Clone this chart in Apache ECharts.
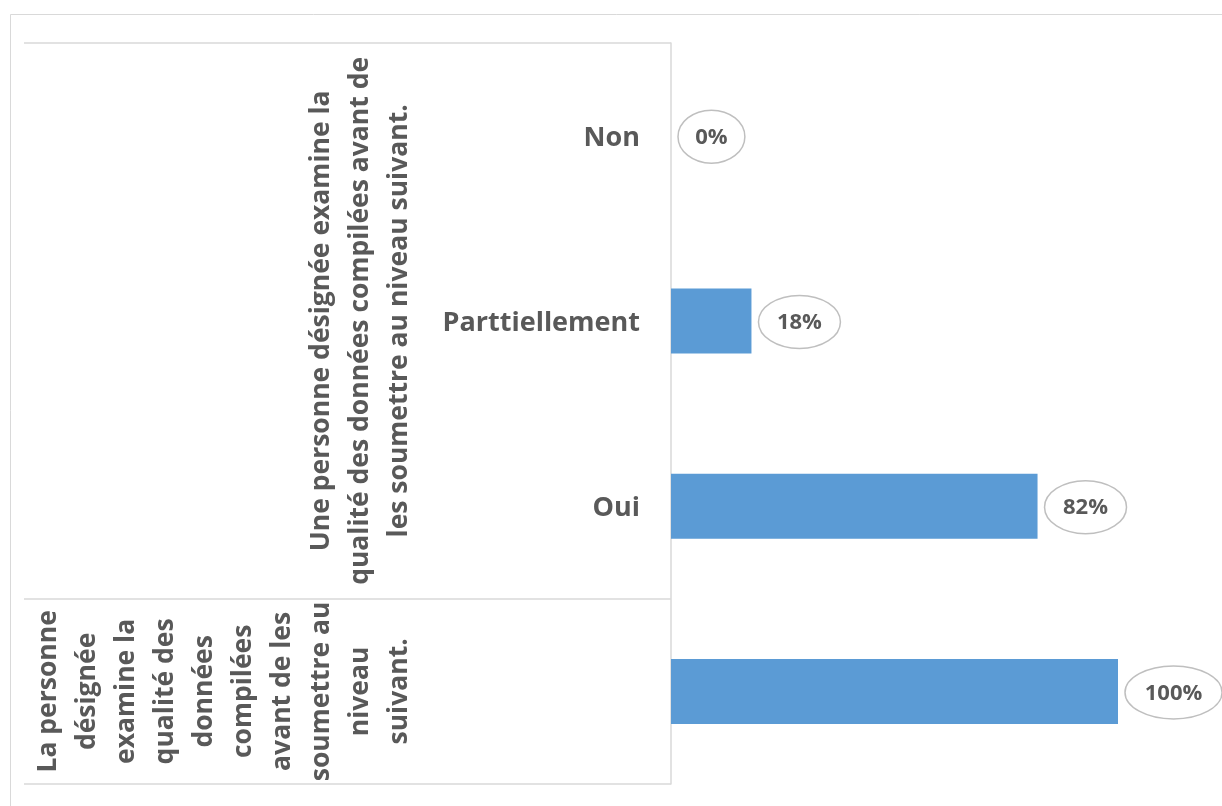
<!DOCTYPE html>
<html>
<head>
<meta charset="utf-8">
<script src="https://cdn.jsdelivr.net/npm/echarts@6/dist/echarts.min.js"></script>
<style>
  html, body { margin: 0; padding: 0; background: #fff; overflow: hidden; }
  #chart { width: 1222px; height: 806px; }
</style>
</head>
<body>
<div id="chart"></div>
<script>
// Answer categories (first level of the axis), top to bottom
const categories = ['Non', 'Parttiellement', 'Oui', ''];
// Share of respondents for each row
const values = [0, 0.18, 0.82, 1.00];
// Second-level group labels: [category index at the group's centre, wrapped lines]
const groupLabels = [
  [1, ['Une personne désignée examine la', 'qualité des données compilées avant de', 'les soumettre au niveau suivant.']],
  [3, ['La personne', 'désignée', 'examine la', 'qualité des', 'données', 'compilées', 'avant de les', 'soumettre au', 'niveau', 'suivant.']]
];
// Category indices where a group starts (boundary lines of the label table)
const groupStarts = [0, 3];

const FONT = '"Open Sans", "DejaVu Sans", sans-serif';
const TEXT = '#595959';
const LINE = '#d9d9d9';

const groupText = {};
groupLabels.forEach(g => { groupText[g[0]] = g[1].join('\n'); });

// canvas for measuring callout text
const measureCtx = document.createElement('canvas').getContext('2d');
measureCtx.font = 'bold 22px ' + FONT;

const chart = echarts.init(document.getElementById('chart'));

const option = {
  backgroundColor: '#fff',
  animation: false,
  graphic: [{
    type: 'rect',
    shape: { x: 10.5, y: 14.5, width: 1400, height: 1000 },
    style: { fill: 'none', stroke: LINE, lineWidth: 1 },
    silent: true, z: -10
  }],
  grid: { left: 671, right: 104, top: 43, bottom: 22, outerBoundsMode: 'none', containLabel: false },
  xAxis: { type: 'value', min: 0, max: 1, show: false },
  yAxis: [
    {
      type: 'category',
      data: categories,
      inverse: true,
      axisLine: { show: true, lineStyle: { color: LINE, width: 1.5 } },
      axisTick: { show: false },
      splitLine: { show: false },
      axisLabel: {
        interval: 0,
        margin: 31,
        verticalAlign: 'top',
        lineHeight: 5,
        color: TEXT,
        fontFamily: FONT,
        fontWeight: 'bold',
        fontSize: 27
      }
    },
    {
      type: 'category',
      data: categories,
      inverse: true,
      position: 'left',
      axisLine: { show: false },
      axisTick: {
        show: true,
        length: 647,
        interval: function (idx) { return groupStarts.indexOf(idx) >= 0; },
        lineStyle: { color: LINE, width: 1.5 }
      },
      splitLine: { show: false },
      axisLabel: {
        interval: 0,
        margin: 252,
        rotate: 90,
        align: 'center',
        verticalAlign: 'bottom',
        lineHeight: 39,
        color: TEXT,
        fontFamily: FONT,
        fontWeight: 'bold',
        fontSize: 26.5,
        formatter: function (v, idx) { return groupText[idx] || ''; }
      }
    }
  ],
  series: [
    {
      type: 'bar',
      data: values,
      barWidth: 65,
      itemStyle: { color: '#5b9bd5' },
      silent: true
    },
    {
      // elliptical value callouts to the right of each bar
      type: 'custom',
      data: values.map((v, i) => [v, i]),
      encode: { x: 0, y: 1 },
      silent: true,
      z: 5,
      renderItem: function (params, api) {
        const v = api.value(0);
        const p = api.coord([v, api.value(1)]);
        const txt = Math.round(v * 100) + '%';
        const tw = measureCtx.measureText(txt).width;
        const rx = (tw * 1.2 + 28) / 2;
        const ry = 26.5;
        const cx = p[0] + 7 + rx;
        const cy = p[1] + 1;
        const d = 'M' + (cx - rx) + ' ' + cy +
          ' A' + rx + ' ' + ry + ' 0 1 0 ' + (cx + rx) + ' ' + cy +
          ' A' + rx + ' ' + ry + ' 0 1 0 ' + (cx - rx) + ' ' + cy + ' Z';
        return {
          type: 'group',
          children: [
            { type: 'path', shape: { pathData: d }, style: { fill: '#fff', stroke: '#bfbfbf', lineWidth: 1.5 } },
            { type: 'text', x: cx, y: cy + 1, style: { text: txt, fill: TEXT, font: 'bold 22px ' + FONT, align: 'center', verticalAlign: 'middle' } }
          ]
        };
      }
    }
  ]
};

chart.setOption(option);
</script>
</body>
</html>
